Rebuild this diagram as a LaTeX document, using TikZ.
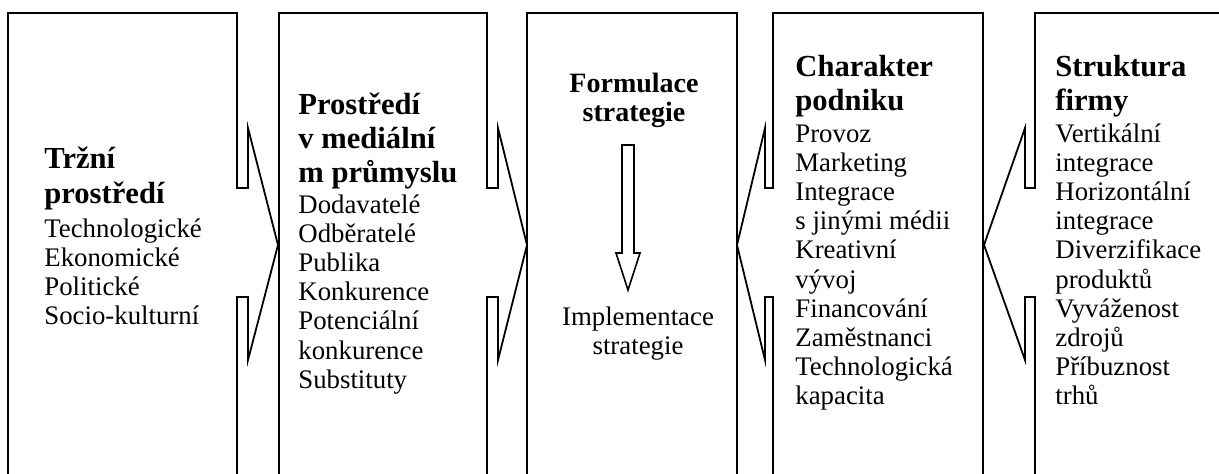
\documentclass[tikz,border=0pt]{standalone}
\usepackage{fontspec}
\setmainfont{Liberation Serif}
\tikzset{
  frame/.style={line width=0.9pt, line join=miter},
  head/.style={anchor=base west, inner sep=0pt, font=\fontsize{15.3}{17}\selectfont\bfseries},
  item/.style={anchor=base west, inner sep=0pt, font=\fontsize{13.4}{14.6}\selectfont},
  midhead/.style={anchor=base, inner sep=0pt, font=\fontsize{14}{15}\selectfont\bfseries},
  miditem/.style={anchor=base, inner sep=0pt, font=\fontsize{13.4}{14.6}\selectfont},
}
\begin{document}
\begin{tikzpicture}[x=0.5pt,y=-0.5pt]
\useasboundingbox (0,0) rectangle (1219,473);
\clip (0,0) rectangle (1219,473);
% boxes with arrow notches
\draw[frame] (8,480) -- (8,13) -- (237,13) -- (237,188) -- (248,188) -- (248,128) -- (278,245)
  -- (248,360) -- (248,297) -- (237,297) -- (237,480);
\draw[frame] (279,480) -- (279,13) -- (487,13) -- (487,188) -- (498,188) -- (498,128) -- (527,245)
  -- (498,360) -- (498,297) -- (487,297) -- (487,480);
\draw[frame] (527,480) -- (527,13) -- (737,13) -- (737,480);
\draw[frame] (983,480) -- (983,13) -- (773,13) -- (773,188) -- (765,188) -- (765,128) -- (737,245)
  -- (765,360) -- (765,297) -- (773,297) -- (773,480);
\draw[frame] (1230,13) -- (1035,13) -- (1035,188) -- (1025,188) -- (1025,128) -- (984,245)
  -- (1025,360) -- (1025,297) -- (1035,297) -- (1035,480);
% box 1
\node[head] (trh1) at (44,168) {Tržní};
\node[head] (trh2) at (44,203) {prostředí};
\foreach \txt [count=\i] in {Technologické,Ekonomické,Politické,Socio-kulturní}
  \node[item] (trh-\i) at (44,{237+29.2*(\i-1)}) {\txt};
% box 2
\node[head] (med1) at (298,114) {Prostředí};
\node[head] (med2) at (298,148) {v mediální};
\node[head] (med3) at (298,182) {m průmyslu};
\foreach \txt [count=\i] in {Dodavatelé,Odběratelé,Publika,Konkurence,Potenciální,konkurence,Substituty}
  \node[item] (med-\i) at (298,{213+29.2*(\i-1)}) {\txt};
% box 3
\node[midhead] (form1) at (634,92) {Formulace};
\node[midhead] (form2) at (634,121) {strategie};
\node[miditem] (impl1) at (638,325) {Implementace};
\node[miditem] (impl2) at (638,354) {strategie};
\draw[frame, line width=0.8pt] (622,145) -- (634,145) -- (634,253) -- (640,253) -- (628,290)
  -- (616,253) -- (622,253) -- cycle;
% box 4
\node[head] (pod1) at (795,76) {Charakter};
\node[head] (pod2) at (795,110) {podniku};
\foreach \txt [count=\i] in {Provoz,Marketing,Integrace,s jinými médii,Kreativní,vývoj,Financování,Zaměstnanci,Technologická,kapacita}
  \node[item] (pod-\i) at (795,{142+29.2*(\i-1)}) {\txt};
% box 5
\node[head] (fir1) at (1055,76) {Struktura};
\node[head] (fir2) at (1055,110) {firmy};
\foreach \txt [count=\i] in {Vertikální,integrace,Horizontální,integrace,Diverzifikace,produktů,Vyváženost,zdrojů,Příbuznost,trhů}
  \node[item] (fir-\i) at (1055,{142+29.2*(\i-1)}) {\txt};
\end{tikzpicture}
\end{document}
